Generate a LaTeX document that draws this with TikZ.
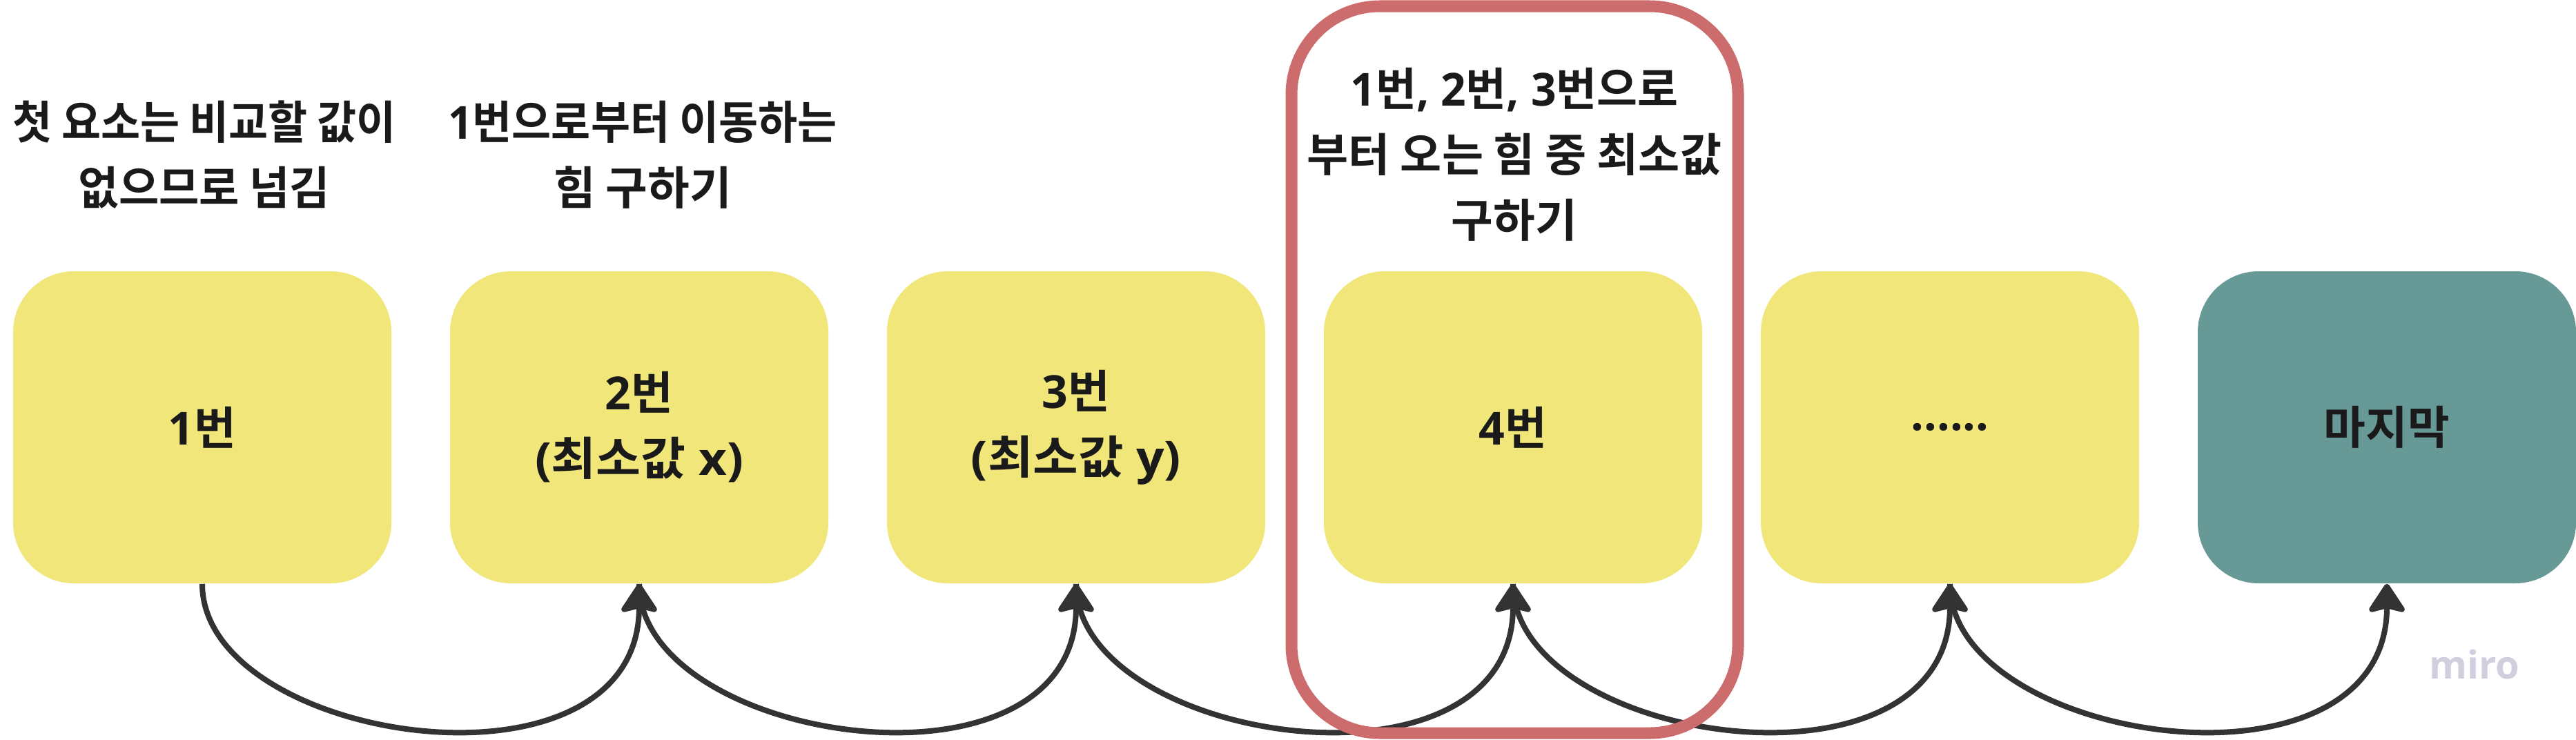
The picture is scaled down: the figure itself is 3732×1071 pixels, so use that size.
\documentclass[tikz,border=0pt]{standalone}
\usepackage{fontspec}
\usepackage{graphicx}
\setmainfont{Noto Sans CJK KR}[UprightFont=* Bold]
\newfontfamily\latf{Open Sans}[UprightFont=* Bold]
\newfontfamily\mirofont{Open Sans}[UprightFont=* Bold]
\newcommand\OS[1]{{\latf #1}}
\newcommand\hs[2]{\scalebox{#1}[1]{#2}}
\usetikzlibrary{arrows.meta}
\definecolor{stickyY}{RGB}{240,230,122}
\definecolor{tealcard}{RGB}{103,153,151}
\definecolor{redframe}{RGB}{205,108,108}
\definecolor{arrowc}{RGB}{51,51,51}
\definecolor{txt}{RGB}{26,26,26}
\definecolor{mirogray}{RGB}{208,207,222}
\begin{document}
\begin{tikzpicture}[x=0.25pt,y=-0.25pt,
  card/.style={rounded corners=22pt, minimum width=137pt, minimum height=113pt, inner sep=0pt, align=center, text=txt, font=\fontsize{16.5}{23.75}\selectfont},
  yellowcard/.style={card, fill=stickyY},
  lastcard/.style={card, fill=tealcard},
  toplabel/.style={align=center, text=txt, font=\fontsize{16.5}{23.75}\selectfont, inner sep=0pt},
  link/.style={draw=arrowc, line width=2pt, -{Stealth[length=11.5pt,width=15pt,inset=1.8pt,round]}}
]
\useasboundingbox (0,0) rectangle (3732,1071);
\node[yellowcard] (b1) at (293,619) {\OS{1}번};
\node[yellowcard] (b2) at (926,619) {\OS{2}번\\\hs{1.07}{\OS{(}최소값\OS{ x)}}};
\node[yellowcard] (b3) at (1559,619) {\OS{3}번\\\hs{1.08}{\OS{(}최소값\OS{ y)}}};
\node[yellowcard] (b4) at (2192,619) {\OS{4}번};
\node[yellowcard] (b5) at (2825,619) {\OS{......}};
\node[lastcard] (b6) at (3458,619) {마지막};

\node[toplabel] (t1) at (296,224) {\hs{0.94}{첫 요소는 비교할 값이}\\\hs{0.96}{없으므로 넘김}};
\node[toplabel] (t2) at (931,224) {\hs{0.94}{\OS{1}번으로부터 이동하는}\\힘 구하기};
\node[toplabel] (t4) at (2194,224) {\hs{0.97}{\OS{1}번\OS{, 2}번\OS{, 3}번으로}\\\hs{0.99}{부터 오는 힘 중 최소값}\\구하기};

\draw[link] (b1.south) .. controls +(0,231) and +(0,325) .. (b2.south);
\draw[link] (b2.south) .. controls +(0,231) and +(0,325) .. (b3.south);
\draw[link] (b3.south) .. controls +(0,231) and +(0,325) .. (b4.south);
\draw[link] (b4.south) .. controls +(0,231) and +(0,325) .. (b5.south);
\draw[link] (b5.south) .. controls +(0,231) and +(0,325) .. (b6.south);

\node[draw=redframe, line width=4.25pt, rounded corners=32pt, minimum width=161.75pt, minimum height=263.25pt, inner sep=0pt] (focus) at (2194.5,535.5) {};

\node[text=mirogray, font=\mirofont\fontsize{14}{14}\selectfont, inner sep=0pt] (wm) at (3585,962) {miro};
\end{tikzpicture}
\end{document}
